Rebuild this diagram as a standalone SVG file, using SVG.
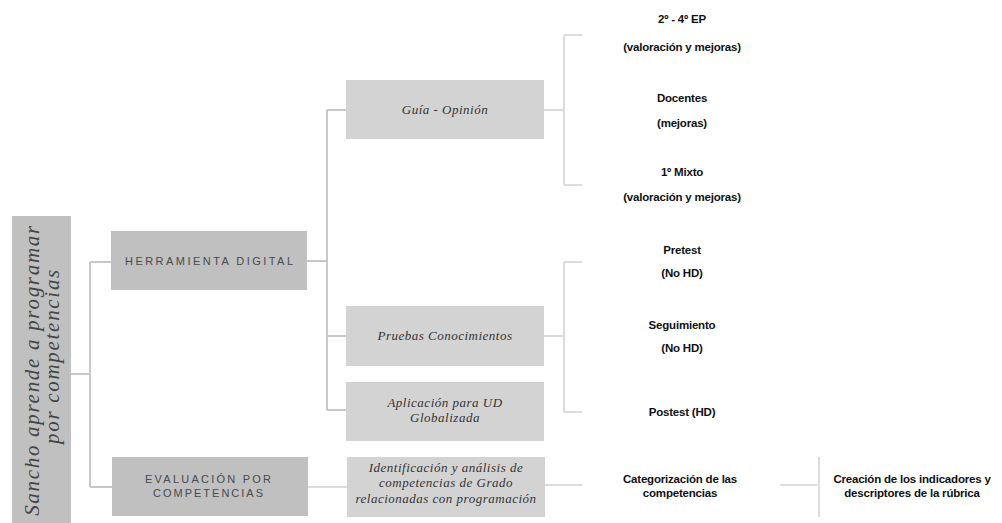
<svg xmlns="http://www.w3.org/2000/svg" width="1002" height="523" viewBox="0 0 1002 523">
<style>
.c{fill:none;stroke:#c8c8c8;stroke-width:2}
.c2{fill:none;stroke:#dcdcdc;stroke-width:2}
.b1{fill:#c0c0c0}
.b2{fill:#d3d3d3}
.cap{font-family:"Liberation Sans",sans-serif;font-size:11px;fill:#4a4a4a;text-anchor:middle}
.hw{font-family:"Liberation Serif",serif;font-style:italic;font-size:13px;fill:#333;text-anchor:middle;letter-spacing:0.5px}
.bd{font-family:"Liberation Sans",sans-serif;font-weight:bold;font-size:11.5px;fill:#111;text-anchor:middle;letter-spacing:-0.2px}
.rt{font-family:"Liberation Serif",serif;font-style:italic;font-size:21px;fill:#444;text-anchor:middle;letter-spacing:1.7px}
</style>
<rect width="1002" height="523" fill="#ffffff"/>
<g id="connectors">
<path class="c" d="M71 374H90M90 262V487M90 262H111M90 487H112"/>
<path class="c" d="M307 261H327M327 110V410M327 110H346M327 336H346M327 410H346"/>
<path class="c2" d="M544 110H564M564 35V185M564 35H582M564 185H582"/>
<path class="c2" d="M544 336H564M564 262V412M564 262H582M564 412H582"/>
<path class="c2" d="M308 487H347M545 485H582M780 485H817M819 457V517"/>
</g>
<g id="root">
<rect class="b1" x="12" y="216" width="59" height="320"/>
<text class="rt" transform="translate(39 370) rotate(-90)">Sancho aprende a programar</text>
<text class="rt" transform="translate(59 356) rotate(-90)">por competencias</text>
</g>
<g id="herramienta">
<rect class="b1" x="111" y="231" width="196" height="59"/>
<text class="cap" x="209" y="265" textLength="168" lengthAdjust="spacing">HERRAMIENTA DIGITAL</text>
</g>
<g id="evaluacion">
<rect class="b1" x="112" y="457" width="196" height="59"/>
<text class="cap" x="208" y="483" textLength="126" lengthAdjust="spacing">EVALUACIÓN POR</text>
<text class="cap" x="208" y="497" textLength="110" lengthAdjust="spacing">COMPETENCIAS</text>
</g>
<g id="guia">
<rect class="b2" x="346" y="80" width="198" height="59"/>
<text class="hw" x="445" y="114">Guía - Opinión</text>
</g>
<g id="pruebas">
<rect class="b2" x="346" y="306" width="198" height="60"/>
<text class="hw" x="445" y="340">Pruebas Conocimientos</text>
</g>
<g id="aplicacion">
<rect class="b2" x="346" y="382" width="198" height="59"/>
<text class="hw" x="445" y="407">Aplicación para UD</text>
<text class="hw" x="445" y="422">Globalizada</text>
</g>
<g id="identificacion">
<rect class="b2" x="347" y="457" width="198" height="60"/>
<text class="hw" x="446" y="472" letter-spacing="0.3">Identificación y análisis de</text>
<text class="hw" x="446" y="487" letter-spacing="0.3">competencias de Grado</text>
<text class="hw" x="446" y="503" letter-spacing="0.3">relacionadas con programación</text>
</g>
<g id="ep">
<text class="bd" x="682" y="23">2º - 4º EP</text>
<text class="bd" x="682" y="51">(valoración y mejoras)</text>
</g>
<g id="docentes">
<text class="bd" x="682" y="102">Docentes</text>
<text class="bd" x="682" y="127">(mejoras)</text>
</g>
<g id="mixto">
<text class="bd" x="682" y="176">1º Mixto</text>
<text class="bd" x="682" y="201">(valoración y mejoras)</text>
</g>
<g id="pretest">
<text class="bd" x="682" y="254">Pretest</text>
<text class="bd" x="682" y="277">(No HD)</text>
</g>
<g id="seguimiento">
<text class="bd" x="682" y="329">Seguimiento</text>
<text class="bd" x="682" y="352">(No HD)</text>
</g>
<g id="postest">
<text class="bd" x="682" y="416">Postest (HD)</text>
</g>
<g id="categorizacion">
<text class="bd" x="680" y="483">Categorización de las</text>
<text class="bd" x="680" y="497">competencias</text>
</g>
<g id="creacion">
<text class="bd" x="912" y="483">Creación de los indicadores y</text>
<text class="bd" x="912" y="497">descriptores de la rúbrica</text>
</g>
</svg>
